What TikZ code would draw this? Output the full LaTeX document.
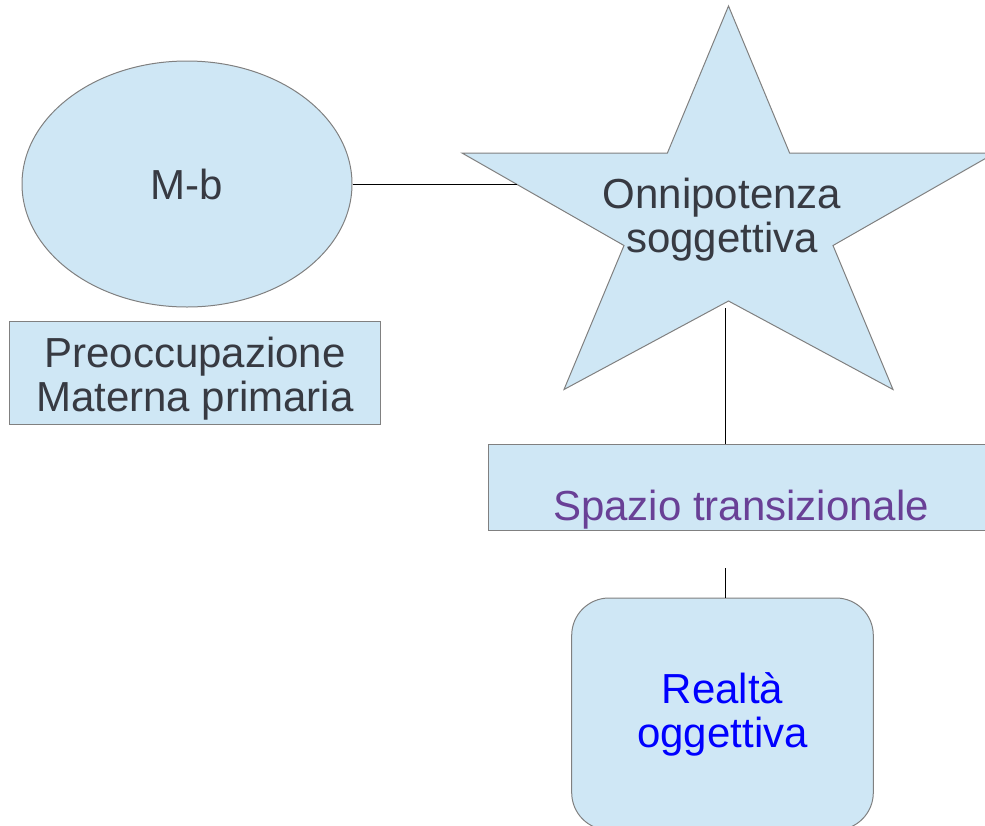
\documentclass[tikz,border=0pt]{standalone}
\usepackage{fontspec}
\newfontfamily\lblfont{Liberation Sans}
\usetikzlibrary{shapes.geometric}

\definecolor{shapefill}{RGB}{207,231,245}
\definecolor{shapeline}{RGB}{128,128,128}
\definecolor{txtdark}{RGB}{55,58,66}
\definecolor{txtpurple}{RGB}{105,64,150}
\definecolor{txtblue}{RGB}{0,0,255}

\begin{document}
\begin{tikzpicture}[x=0.75pt,y=0.75pt,yscale=-1,
  shapebox/.style={draw=shapeline,fill=shapefill,line width=0.75pt},
  lbl/.style={font=\lblfont\fontsize{31.5}{33}\selectfont,text=txtdark,align=center,inner sep=0pt},
  link/.style={draw=black,line width=0.75pt}]
\useasboundingbox (0,0) rectangle (985,825);
\clip (0,0) rectangle (985,825);

%Shape: Ellipse [M-b]
\node[shapebox,lbl,ellipse,minimum width=247.5pt,minimum height=184.5pt] (mb) at (187,184) {M-b};

%Shape: Rectangle
\node[shapebox,minimum width=278.25pt,minimum height=77.25pt] (pmpbox) at (194.5,372.5) {};
% Text Node
\node[lbl] (pmp) at (195,379) {Preoccupazione\\Materna primaria};

%Shape: Star
\draw[shapebox] (728.5,6) -- (667.4,153) -- (462,153) -- (624,245.5) -- (564,389.5) -- (728.5,301)
  -- (893,389.5) -- (833,245.5) -- (995,153) -- (789.6,153) -- cycle;
% Text Node
\node[lbl] (onni) at (722,220) {Onnipotenza\\soggettiva};
\coordinate (starL) at (517,184);
\coordinate (starB) at (725.5,308);

%Shape: Rectangle
\node[shapebox,minimum width=379.5pt,minimum height=64.5pt] (stbox) at (741,487) {};
% Text Node
\node[lbl,text=txtpurple,anchor=base] (st) at (741,520) {Spazio transizionale};
\coordinate (stlow) at (725.5,568);

%Shape: Rounded Rectangle
\node[shapebox,lbl,text=txtblue,rounded corners=28pt,minimum width=226.2pt,minimum height=174pt] (rbox) at (722.5,714) {Realtà\\oggettiva};

%Straight Lines
\draw[link] (mb.east) -- (starL);
\draw[link] (starB) -- (starB |- stbox.north);
\draw[link] (stlow) -- (stlow |- rbox.north);

\end{tikzpicture}
\end{document}
